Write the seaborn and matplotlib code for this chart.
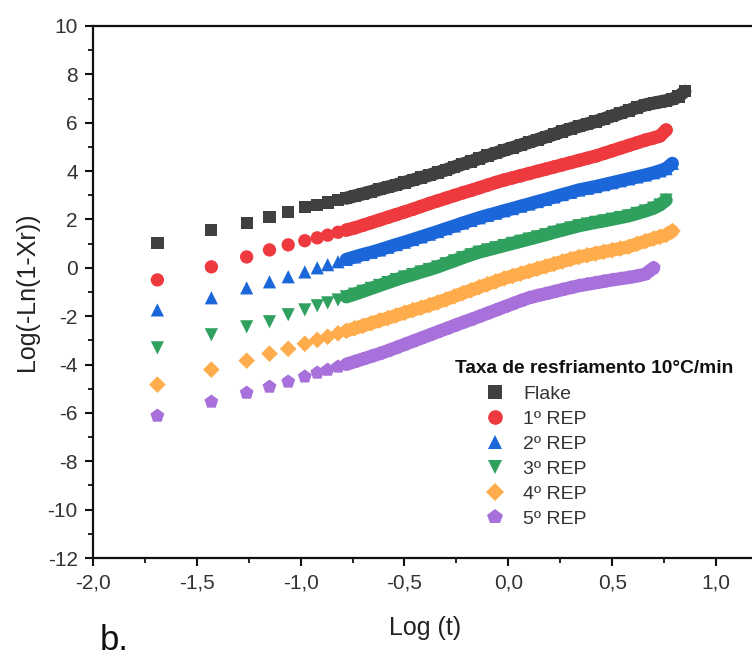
import numpy as np
import pandas as pd
import matplotlib
matplotlib.use('Agg')
import matplotlib.pyplot as plt
from matplotlib.ticker import MultipleLocator, FuncFormatter
import seaborn as sns

sns.set_style('ticks')
plt.rcParams['font.family'] = ['Liberation Sans', 'DejaVu Sans']

# Log(t) values shared by all the runs (each run stops at its own length)
log_t = [-1.69, -1.43, -1.26, -1.15, -1.06, -0.98, -0.92, -0.87, -0.82, -0.78,
         -0.74, -0.70, -0.66, -0.62, -0.58, -0.54, -0.50, -0.46, -0.42, -0.38,
         -0.34, -0.30, -0.26, -0.22, -0.18, -0.14, -0.10, -0.06, -0.02, 0.02,
         0.06, 0.10, 0.14, 0.18, 0.22, 0.26, 0.30, 0.34, 0.38, 0.42,
         0.46, 0.50, 0.54, 0.58, 0.62, 0.66, 0.70, 0.73, 0.76, 0.79,
         0.82, 0.85]

flake = [1.03, 1.57, 1.86, 2.11, 2.31, 2.52, 2.60, 2.70, 2.80, 2.88,
         2.97, 3.06, 3.15, 3.25, 3.34, 3.43, 3.53, 3.63, 3.73, 3.83,
         3.94, 4.05, 4.17, 4.29, 4.40, 4.52, 4.64, 4.75, 4.86, 4.97,
         5.08, 5.19, 5.30, 5.41, 5.52, 5.64, 5.75, 5.85, 5.95, 6.05,
         6.16, 6.28, 6.39, 6.51, 6.63, 6.74, 6.81, 6.86, 6.91, 6.98,
         7.08, 7.30]
rep1 = [-0.50, 0.04, 0.45, 0.74, 0.95, 1.12, 1.24, 1.35, 1.47, 1.56,
        1.65, 1.76, 1.87, 1.98, 2.09, 2.20, 2.31, 2.42, 2.54, 2.66,
        2.77, 2.88, 2.99, 3.10, 3.20, 3.31, 3.42, 3.53, 3.63, 3.72,
        3.81, 3.90, 3.99, 4.08, 4.17, 4.26, 4.35, 4.44, 4.53, 4.62,
        4.73, 4.84, 4.95, 5.06, 5.17, 5.28, 5.37, 5.45, 5.70]
rep2 = [-1.74, -1.24, -0.83, -0.58, -0.37, -0.17, 0.00, 0.13, 0.25, 0.35,
        0.45, 0.55, 0.64, 0.74, 0.85, 0.96, 1.06, 1.17, 1.28, 1.39,
        1.50, 1.62, 1.73, 1.85, 1.96, 2.07, 2.17, 2.26, 2.36, 2.45,
        2.55, 2.64, 2.74, 2.83, 2.93, 3.03, 3.12, 3.22, 3.29, 3.36,
        3.44, 3.52, 3.60, 3.68, 3.76, 3.84, 3.93, 4.01, 4.10, 4.32]
rep3 = [-3.31, -2.77, -2.44, -2.23, -1.94, -1.74, -1.57, -1.45, -1.33, -1.20,
        -1.09, -0.97, -0.85, -0.73, -0.61, -0.49, -0.38, -0.28, -0.17, -0.07,
        0.04, 0.17, 0.29, 0.42, 0.54, 0.65, 0.74, 0.83, 0.92, 1.01,
        1.10, 1.19, 1.28, 1.37, 1.47, 1.56, 1.65, 1.74, 1.81, 1.88,
        1.94, 2.01, 2.08, 2.15, 2.25, 2.35, 2.47, 2.60, 2.80]
rep4 = [-4.83, -4.21, -3.84, -3.55, -3.35, -3.14, -2.98, -2.85, -2.71, -2.61,
        -2.50, -2.40, -2.29, -2.18, -2.08, -1.97, -1.86, -1.75, -1.65, -1.54,
        -1.43, -1.31, -1.18, -1.05, -0.93, -0.80, -0.68, -0.56, -0.44, -0.34,
        -0.24, -0.14, -0.04, 0.06, 0.16, 0.26, 0.36, 0.45, 0.52, 0.59,
        0.66, 0.73, 0.80, 0.87, 0.99, 1.10, 1.21, 1.28, 1.36, 1.52]
rep5 = [-6.12, -5.54, -5.17, -4.92, -4.71, -4.50, -4.34, -4.22, -4.09, -3.99,
        -3.88, -3.77, -3.66, -3.55, -3.43, -3.30, -3.17, -3.04, -2.91, -2.78,
        -2.65, -2.52, -2.39, -2.26, -2.14, -2.01, -1.88, -1.75, -1.62, -1.49,
        -1.36, -1.24, -1.15, -1.07, -0.99, -0.90, -0.82, -0.74, -0.68, -0.62,
        -0.56, -0.50, -0.45, -0.40, -0.34, -0.26, 0.00]

labels = ['Flake', '1º REP', '2º REP', '3º REP', '4º REP', '5º REP']
colors = ['#404040', '#ee3a3f', '#1b66d8', '#2fa05e', '#ffac4c', '#a770da']
markers = ['s', 'o', '^', 'v', 'D', 'p']
sizes = [78, 92, 90, 90, 72, 110]

frames = []
for lab, vals in zip(labels, [flake, rep1, rep2, rep3, rep4, rep5]):
    frames.append(pd.DataFrame({'log_t': log_t[:len(vals)], 'y': vals, 'amostra': lab}))
df = pd.concat(frames, ignore_index=True)
# where the points are dense they merge into a band
dense = df[df['log_t'] >= -0.80]

palette = dict(zip(labels, colors))

fig = plt.figure(figsize=(7.52, 6.59), dpi=100)
ax = fig.add_axes([93 / 752, 1 - 558 / 659, 664.5 / 752, 532 / 659])

sns.lineplot(data=dense, x='log_t', y='y', hue='amostra', hue_order=labels,
             palette=palette, linewidth=9.5, estimator=None, sort=False,
             legend=False, solid_capstyle='round', ax=ax)
sns.scatterplot(data=df, x='log_t', y='y', hue='amostra', style='amostra', size='amostra',
                hue_order=labels, style_order=labels, size_order=labels,
                palette=palette, markers=dict(zip(labels, markers)),
                sizes=dict(zip(labels, sizes)), linewidth=0, ax=ax, zorder=3)

ax.set_xlim(-2.0, 1.2)
ax.set_ylim(-12, 10)
ax.xaxis.set_major_locator(MultipleLocator(0.5))
ax.xaxis.set_minor_locator(MultipleLocator(0.25))
ax.yaxis.set_major_locator(MultipleLocator(2))
ax.yaxis.set_minor_locator(MultipleLocator(1))
ax.xaxis.set_major_formatter(FuncFormatter(lambda v, p: f'{v:.1f}'.replace('.', ',')))
ax.yaxis.set_major_formatter(FuncFormatter(lambda v, p: f'{v:.0f}'))

for side in ['left', 'bottom', 'top']:
    ax.spines[side].set_linewidth(1.6)
    ax.spines[side].set_color('#111111')
ax.spines['right'].set_visible(False)
ax.tick_params(which='major', direction='out', length=6, width=1.5, labelsize=15,
               labelcolor='#333333', color='#111111', pad=5)
ax.tick_params(which='minor', direction='out', length=3.5, width=1.3, color='#111111')

ax.set_xlabel('Log (t)', fontsize=18, color='#222222', labelpad=17)
ax.set_ylabel('Log(-Ln(1-Xr))', fontsize=18, color='#222222', labelpad=6)

handles, _ = ax.get_legend_handles_labels()
leg = ax.legend(handles, labels, loc='upper left', bbox_to_anchor=(485 / 752, 1 - 385 / 659),
                bbox_transform=fig.transFigure, frameon=False, fontsize=14,
                handlelength=1.0, handletextpad=0.95, labelspacing=0.38,
                borderpad=0, borderaxespad=0, markerscale=1.1)
for t in leg.get_texts():
    t.set_color('#333333')
fig.text(455 / 752, 1 - 368 / 659, 'Taxa de resfriamento 10°C/min', fontsize=13.8,
         fontweight='bold', color='#111111', va='center', ha='left')

fig.text(100 / 752, 1 - 640 / 659, 'b.', fontsize=25, color='#111111', va='center')

fig.savefig('out.png', dpi=100)
